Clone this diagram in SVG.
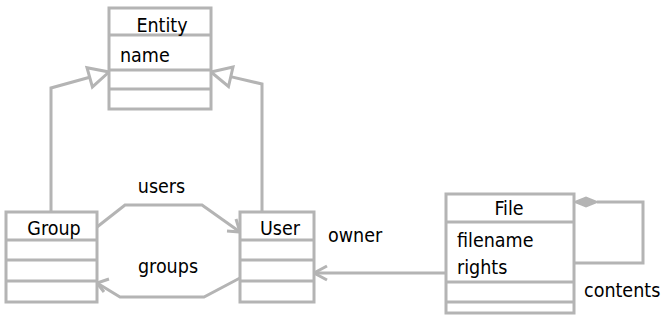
<svg xmlns="http://www.w3.org/2000/svg" width="663" height="325" viewBox="0 0 663 325">
<style>
.box{fill:#fff;stroke:#b4b4b4;stroke-width:3}
.sep{stroke:#b4b4b4;stroke-width:3}
.ln{fill:none;stroke:#b4b4b4;stroke-width:3;stroke-linejoin:miter}
.tri{fill:#fff;stroke:#b4b4b4;stroke-width:3}
.dia{fill:#b4b4b4;stroke:#b4b4b4;stroke-width:2}
text{font-family:"DejaVu Sans Condensed","DejaVu Sans",sans-serif;font-stretch:condensed;font-size:19.5px;fill:#000}
.c{text-anchor:middle}
</style>
<rect width="663" height="325" fill="#fff"/>
<g id="connectors">
<polyline class="ln" points="51,212 51,88 89.7,77.3"/>
<polygon class="tri" points="109,72 92.4,86.9 87,67.7"/>
<polyline class="ln" points="262,212 262,84 230.5,76.6"/>
<polygon class="tri" points="211,72 233,67 228.5,86.5"/>
<polyline class="ln" points="97,227 125,205 202,205 240,232"/>
<polyline class="ln" points="227,231 240,232 236,219"/>
<polyline class="ln" points="240,278 204,297 120,297 97,283"/>
<polyline class="ln" points="104,292 97,283 109,279"/>
<line class="ln" x1="446" y1="273" x2="314" y2="273"/>
<polyline class="ln" points="327,266 314,273 327,280"/>
<polyline class="ln" points="597,202 643,202 643,263 574,263"/>
<polygon class="dia" points="575,202 586,197.5 597,202 586,206.5"/>
<text x="161.5" y="193" class="c">users</text>
<text x="168" y="273" class="c">groups</text>
<text x="328" y="242">owner</text>
<text x="584" y="297">contents</text>
</g>
<g id="Entity">
<rect class="box" x="109" y="8" width="102" height="101"/>
<line class="sep" x1="109" y1="35" x2="211" y2="35"/>
<line class="sep" x1="109" y1="70" x2="211" y2="70"/>
<line class="sep" x1="109" y1="89" x2="211" y2="89"/>
<text x="162" y="31.5" class="c">Entity</text>
<text x="120" y="62">name</text>
</g>
<g id="Group">
<rect class="box" x="6" y="212" width="91" height="90"/>
<line class="sep" x1="6" y1="240" x2="97" y2="240"/>
<line class="sep" x1="6" y1="260" x2="97" y2="260"/>
<line class="sep" x1="6" y1="281" x2="97" y2="281"/>
<text x="54" y="235" class="c">Group</text>
</g>
<g id="User">
<rect class="box" x="240" y="212" width="74" height="90"/>
<line class="sep" x1="240" y1="240" x2="314" y2="240"/>
<line class="sep" x1="240" y1="260" x2="314" y2="260"/>
<line class="sep" x1="240" y1="281" x2="314" y2="281"/>
<text x="280" y="235" class="c">User</text>
</g>
<g id="File">
<rect class="box" x="446" y="194" width="128" height="119"/>
<line class="sep" x1="446" y1="222" x2="574" y2="222"/>
<line class="sep" x1="446" y1="282" x2="574" y2="282"/>
<line class="sep" x1="446" y1="302" x2="574" y2="302"/>
<text x="509" y="215" class="c">File</text>
<text x="457" y="247">filename</text>
<text x="457" y="274">rights</text>
</g>
</svg>
